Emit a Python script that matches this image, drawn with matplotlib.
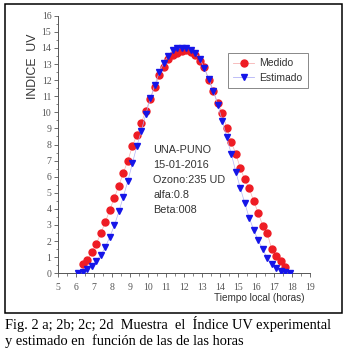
import matplotlib
matplotlib.use("Agg")
import matplotlib.pyplot as plt
from matplotlib.lines import Line2D
from matplotlib.patches import Rectangle
from matplotlib.ticker import MultipleLocator

# measured UV index (red circles)
t_medido = [6.37, 6.62, 6.87, 7.12, 7.37, 7.62, 7.87, 8.12, 8.37, 8.62,
            8.87, 9.12, 9.37, 9.62, 9.87, 10.12, 10.37, 10.62, 10.87, 11.12,
            11.37, 11.62, 11.87, 12.12, 12.37, 12.62, 12.87, 13.12, 13.37, 13.62,
            13.87, 14.12, 14.37, 14.62, 14.87, 15.12, 15.37, 15.62, 15.87, 16.12,
            16.37, 16.62, 16.87, 17.12, 17.37, 17.62]
uv_medido = [0.58, 0.85, 1.3, 1.85, 2.5, 3.2, 3.95, 4.7, 5.45, 6.25,
             7.0, 7.9, 8.6, 9.35, 10.1, 10.85, 11.6, 12.3, 12.8, 13.3,
             13.55, 13.7, 13.8, 13.85, 13.75, 13.55, 13.2, 12.8, 12.0, 11.3,
             10.58, 9.95, 9.05, 8.16, 7.43, 6.55, 5.83, 5.27, 4.48, 3.75,
             2.96, 2.5, 1.5, 1.08, 0.77, 0.42]

# estimated UV index (blue triangles)
t_estimado = [6.12, 6.37, 6.62, 6.87, 7.12, 7.37, 7.62, 7.87, 8.12, 8.37,
              8.62, 8.87, 9.12, 9.37, 9.62, 9.87, 10.12, 10.37, 10.62, 10.87,
              11.12, 11.37, 11.62, 11.87, 12.12, 12.37, 12.62, 12.87, 13.12, 13.37,
              13.62, 13.87, 14.12, 14.37, 14.62, 14.87, 15.12, 15.37, 15.62, 15.87,
              16.12, 16.37, 16.62, 16.87, 17.12, 17.37, 17.62, 17.87]
uv_estimado = [0.04, 0.1, 0.25, 0.48, 0.78, 1.13, 1.64, 2.27, 2.98, 3.84,
               4.77, 5.74, 6.83, 7.9, 8.85, 9.89, 10.87, 11.7, 12.5, 13.08,
               13.5, 13.85, 13.98, 14.02, 14.0, 13.9, 13.7, 13.33, 12.75, 12.08,
               11.35, 10.46, 9.48, 8.44, 7.42, 6.32, 5.31, 4.37, 3.44, 2.7,
               2.04, 1.5, 0.94, 0.58, 0.3, 0.15, 0.06, 0.03]

info = ["UNA-PUNO", "15-01-2016", "Ozono:235 UD", "alfa:0.8", "Beta:008"]

W, H = 345, 356
fig = plt.figure(figsize=(W / 100, H / 100), dpi=100)

# axes placed in pixels (x 5..19 -> 58..310 px, y 0..16 -> 273..16 px)
ax = fig.add_axes([58.3 / W, (H - 273.3) / H, 251.7 / W, 257.6 / H])
ax.plot(t_medido, uv_medido, ls="-", lw=0.5, color="#f6b3b3", marker="o",
        ms=5, mfc="#ee1c24", mec="#ee1c24", zorder=3)
ax.plot(t_estimado, uv_estimado, ls="-", lw=0.5, color="#b3b3f6", marker="v",
        ms=5, mfc="#1515e8", mec="#1515e8", zorder=4)

ax.set_xlim(5, 19)
ax.set_ylim(0, 16)
for s in ["top", "right"]:
    ax.spines[s].set_visible(False)
for s in ["left", "bottom"]:
    ax.spines[s].set_color("#555555")
    ax.spines[s].set_linewidth(0.7)
ax.patch.set_visible(False)

ax.xaxis.set_major_locator(MultipleLocator(1))
ax.xaxis.set_minor_locator(MultipleLocator(0.5))
ax.yaxis.set_major_locator(MultipleLocator(1))
ax.yaxis.set_minor_locator(MultipleLocator(0.5))
ax.tick_params(which="major", length=3, width=0.6, color="#555555",
               labelsize=7, labelcolor="#555555")
ax.tick_params(axis="x", which="major", pad=4)
ax.tick_params(axis="y", which="major", pad=2)
ax.tick_params(which="minor", length=1.8, width=0.5, color="#555555")
for lab in ax.get_xticklabels() + ax.get_yticklabels():
    lab.set_family("Liberation Serif")

handles = [
    Line2D([], [], ls="-", lw=0.6, color="#f6b3b3", marker="o", ms=5,
           mfc="#ee1c24", mec="#ee1c24"),
    Line2D([], [], ls="-", lw=0.6, color="#b3b3f6", marker="v", ms=5,
           mfc="#1515e8", mec="#1515e8"),
]
leg = fig.legend(handles, ["Medido", "Estimado"], loc="upper left",
                 bbox_to_anchor=(228 / W, 1 - 53 / H), bbox_transform=fig.transFigure,
                 prop={"family": "Liberation Sans", "size": 7.5}, fancybox=False,
                 edgecolor="#888888", framealpha=1, handlelength=2.0,
                 handletextpad=0.5, borderpad=0.5, labelspacing=0.45,
                 borderaxespad=0)
leg.get_frame().set_linewidth(0.7)
for txt in leg.get_texts():
    txt.set_color("#333333")

for i, line in enumerate(info):
    fig.text(153 / W, 1 - (150 + i * 15) / H, line, family="Liberation Sans",
             fontsize=7.8, color="#333333", va="center", ha="left")

fig.text(33 / W, 1 - 66 / H, "INDICE  UV", rotation=90, family="Liberation Sans",
         fontsize=8.8, color="#333333", va="center", ha="center")
fig.text(304 / W, 1 - 298 / H, "Tiempo local (horas)", family="Liberation Sans",
         fontsize=7.2, color="#333333", va="center", ha="right")

fig.add_artist(Rectangle((5 / W, 1 - 313 / H), 337 / W, 309 / H,
                         transform=fig.transFigure, fill=False,
                         edgecolor="black", lw=1.1))

fig.text(5 / W, 1 - 324 / H,
         "Fig. 2 a; 2b; 2c; 2d  Muestra  el  Índice UV experimental",
         family="Liberation Serif", fontsize=10.4, color="black",
         va="center", ha="left")
fig.text(5 / W, 1 - 341 / H, "y estimado en  función de las de las horas",
         family="Liberation Serif", fontsize=10.4, color="black",
         va="center", ha="left")

fig.savefig("out.png", dpi=100)
